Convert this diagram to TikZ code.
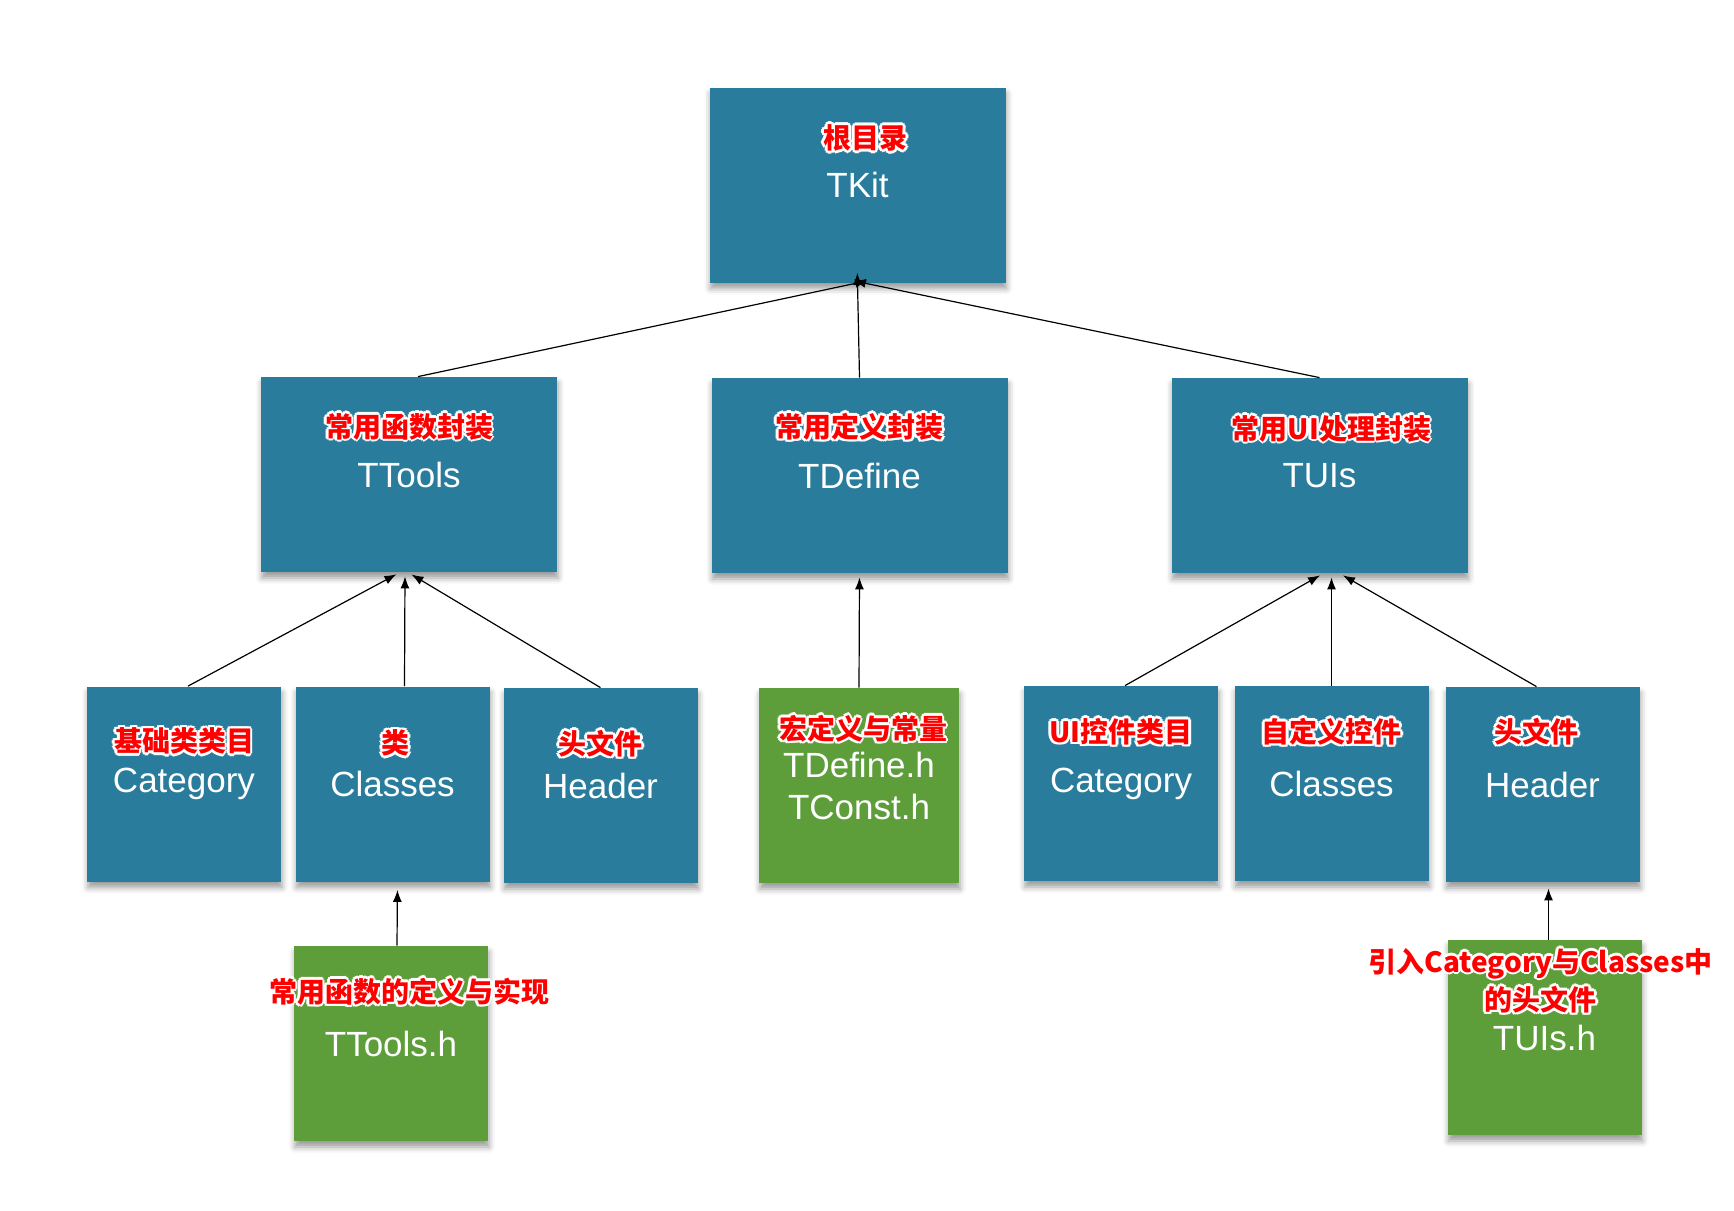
\documentclass[tikz,border=0pt]{standalone}
\usepackage{fontspec}
\setmainfont{Liberation Sans}
\newfontfamily\cjk{Noto Sans CJK SC}
\usetikzlibrary{arrows.meta,shadows.blur}

\definecolor{dirblue}{RGB}{41,124,155}
\definecolor{filegreen}{RGB}{94,158,58}

% red text with a white rim
\newcommand{\rimtext}[1]{\leavevmode
  \rlap{\color{white}\hspace{-1.3pt}#1}\rlap{\color{white}\hspace{1.3pt}#1}%
  \rlap{\color{white}\raisebox{1.3pt}{#1}}\rlap{\color{white}\raisebox{-1.3pt}{#1}}%
  \rlap{\color{white}\hspace{0.9pt}\raisebox{0.9pt}{#1}}\rlap{\color{white}\hspace{-0.9pt}\raisebox{0.9pt}{#1}}%
  \rlap{\color{white}\hspace{0.9pt}\raisebox{-0.9pt}{#1}}\rlap{\color{white}\hspace{-0.9pt}\raisebox{-0.9pt}{#1}}%
  {\color{red}#1}}

\tikzset{
  dirbox/.style={rectangle, fill=dirblue, text=white, inner sep=0pt, align=center,
    minimum width=97pt, minimum height=97.5pt, font=\fontsize{17.5}{21}\selectfont,
    blur shadow={shadow xshift=0.5pt, shadow yshift=-3pt, shadow blur radius=3pt, shadow opacity=40}},
  bigdirbox/.style={dirbox, minimum width=148pt},
  filebox/.style={dirbox, fill=filegreen},
  cnlabel/.style={inner sep=0pt, align=center, font=\cjk\bfseries\fontsize{14}{17.5}\selectfont},
  uparrow/.style={line width=0.6pt, -{Latex[length=6pt,width=4.5pt]}, shorten >=2pt}
}

\begin{document}
\begin{tikzpicture}[x=0.5pt, y=-0.5pt]
    \useasboundingbox (0,0) rectangle (1734,1210);

    % Draw nodes
    \node[bigdirbox] (tkit) at (857.5,185) {TKit};
    \node[bigdirbox] (ttools) at (409,474.5) {TTools};
    \node[bigdirbox] (tdefine) at (859.5,475.5) {TDefine};
    \node[bigdirbox] (tuis) at (1319.5,475.5) {TUIs};

    \node[dirbox] (catl) at (184,784) {Category};
    \node[dirbox] (clsl) at (392.5,784) {Classes};
    \node[dirbox] (hdrl) at (600.5,785.5) {Header};
    \node[filebox, minimum width=100pt] (tdefh) at (859,785.5) {TDefine.h\\TConst.h};
    \node[dirbox] (catr) at (1121,783.5) {Category};
    \node[dirbox] (clsr) at (1331.5,783.5) {Classes};
    \node[dirbox] (hdrr) at (1542.5,784.5) {Header};

    \node[filebox] (ttoolsh) at (391,1043.5) {TTools.h};
    \node[filebox] (tuish) at (1544.5,1037.5) {TUIs.h};

    % Draw labels
    \node[cnlabel] (tkit-cn) at ([xshift=4pt,yshift=23.5pt]tkit.center) {\rimtext{根目录}};
    \node[cnlabel] (ttools-cn) at ([yshift=24pt]ttools.center) {\rimtext{常用函数封装}};
    \node[cnlabel] (tdefine-cn) at ([yshift=24.5pt]tdefine.center) {\rimtext{常用定义封装}};
    \node[cnlabel] (tuis-cn) at ([xshift=6pt,yshift=23.5pt]tuis.center) {\rimtext{常用UI处理封装}};
    \node[cnlabel] (catl-cn) at ([yshift=21.5pt]catl.center) {\rimtext{基础类类目}};
    \node[cnlabel] (clsl-cn) at ([xshift=1.5pt,yshift=20.5pt]clsl.center) {\rimtext{类}};
    \node[cnlabel] (hdrl-cn) at ([yshift=21pt]hdrl.center) {\rimtext{头文件}};
    \node[cnlabel] (tdefh-cn) at ([xshift=2pt,yshift=28.5pt]tdefh.center) {\rimtext{宏定义与常量}};
    \node[cnlabel] (catr-cn) at ([yshift=26pt]catr.center) {\rimtext{UI控件类目}};
    \node[cnlabel] (clsr-cn) at ([yshift=26pt]clsr.center) {\rimtext{自定义控件}};
    \node[cnlabel] (hdrr-cn) at ([xshift=-3pt,yshift=26.5pt]hdrr.center) {\rimtext{头文件}};
    \node[cnlabel] (ttoolsh-cn) at ([xshift=9pt,yshift=26pt]ttoolsh.center) {\rimtext{常用函数的定义与实现}};
    \node[cnlabel] (tuish-cn) at ([xshift=-2pt,yshift=28.5pt]tuish.center) {\rimtext{引入Category与Classes中}\\\rimtext{的头文件}};

    % Draw edges
    \draw[uparrow, shorten >=-5pt] ([xshift=4.5pt]ttools.north) -- (tkit.south);
    \draw[uparrow, shorten >=-5pt] (tdefine.north) -- (tkit.south);
    \draw[uparrow, shorten >=-5pt] (tuis.north) -- ([xshift=3pt]tkit.south);
    \draw[uparrow] ([xshift=2pt]catl.north) -- ([xshift=-4.5pt]ttools.south);
    \draw[uparrow] ([xshift=6pt]clsl.north) -- ([xshift=-2pt]ttools.south);
    \draw[uparrow] (hdrl.north) -- ([xshift=-0.5pt]ttools.south);
    \draw[uparrow] (tdefh.north) -- (tdefine.south);
    \draw[uparrow] ([xshift=2pt]catr.north) -- ([xshift=2pt]tuis.south);
    \draw[uparrow] (clsr.north) -- ([xshift=6pt]tuis.south);
    \draw[uparrow] ([xshift=-3pt]hdrr.north) -- ([xshift=10pt]tuis.south);
    \draw[uparrow, shorten >=4pt] ([xshift=3pt]ttoolsh.north) -- ([xshift=2.5pt]clsl.south);
    \draw[uparrow, shorten >=3pt] ([xshift=2pt]tuish.north) -- ([xshift=3pt]hdrr.south);
\end{tikzpicture}
\end{document}
